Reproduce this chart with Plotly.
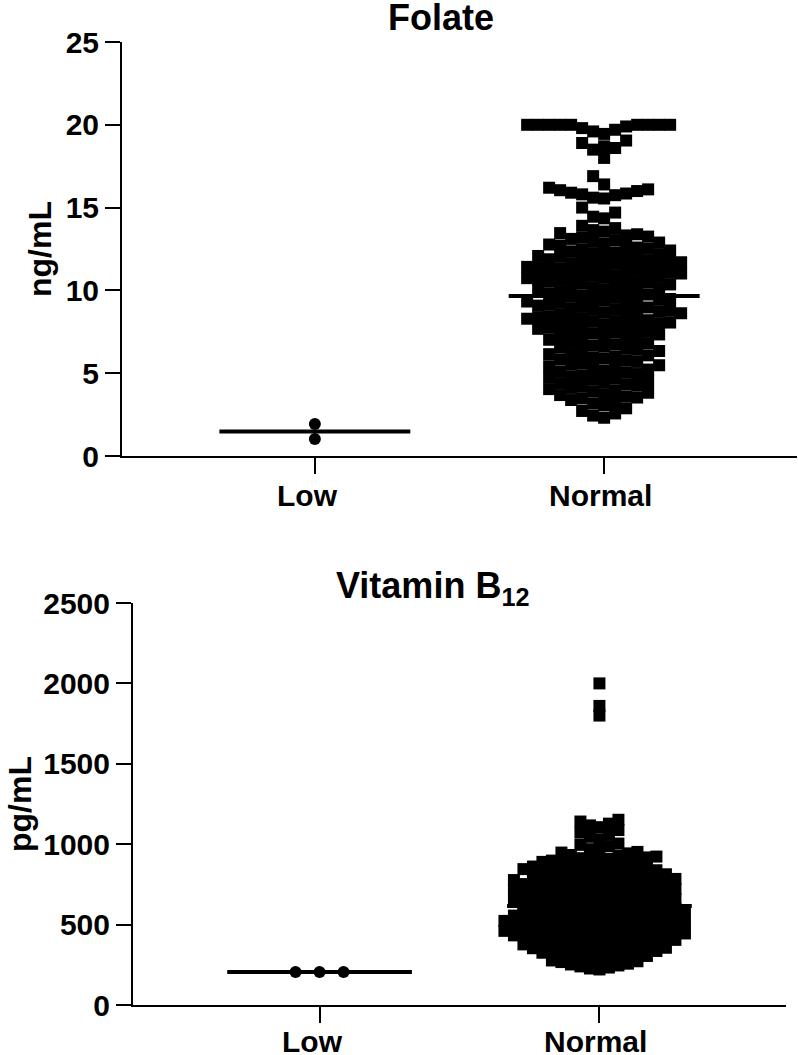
import numpy as np
import plotly.graph_objects as go

# ---- data ----
groups = ["Low", "Normal"]

folate_low = [1.93, 1.03]
folate_normal = [
    2.31, 2.44,
    2.57, 2.72, 2.88,
    3.06, 3.17, 3.26, 3.38, 3.47,
    3.53, 3.6, 3.68, 3.74, 3.82, 3.89, 3.96,
    4.04, 4.11, 4.18, 4.25, 4.33, 4.4, 4.47,
    4.53, 4.6, 4.67, 4.74, 4.82, 4.88, 4.95,
    5.03, 5.09, 5.16, 5.22, 5.29, 5.35, 5.42, 5.48,
    5.54, 5.61, 5.68, 5.75, 5.82, 5.89, 5.96,
    6.02, 6.08, 6.15, 6.21, 6.28, 6.34, 6.41, 6.47,
    6.54, 6.61, 6.68, 6.75, 6.82, 6.89, 6.96,
    7.02, 7.08, 7.15, 7.21, 7.28, 7.34, 7.41, 7.47,
    7.52, 7.57, 7.63, 7.68, 7.74, 7.79, 7.85, 7.9, 7.96,
    8.02, 8.06, 8.11, 8.15, 8.2, 8.24, 8.29, 8.33, 8.38, 8.42, 8.47,
    8.52, 8.57, 8.62, 8.67, 8.72, 8.77, 8.82, 8.87, 8.92, 8.97,
    9.03, 9.08, 9.13, 9.18, 9.23, 9.28, 9.33, 9.38, 9.43, 9.48,
    9.52, 9.57, 9.62, 9.7, 9.75, 9.8, 9.86, 9.91, 9.96,
    10.03, 10.08, 10.14, 10.19, 10.25, 10.3, 10.36, 10.41, 10.47,
    10.52, 10.56, 10.61, 10.65, 10.7, 10.74, 10.79, 10.83, 10.88, 10.92, 10.97,
    11.02, 11.06, 11.11, 11.15, 11.2, 11.24, 11.29, 11.33, 11.38, 11.42, 11.47,
    11.52, 11.56, 11.61, 11.65, 11.7, 11.74, 11.79, 11.83, 11.88, 11.92, 11.97,
    12.03, 12.08, 12.14, 12.19, 12.25, 12.3, 12.36, 12.41, 12.47,
    12.53, 12.59, 12.65, 12.71, 12.77, 12.83, 12.89, 12.95,
    13.04, 13.11, 13.18, 13.25, 13.32, 13.39, 13.46,
    13.55, 13.64, 13.76, 13.9,
    14.35, 14.45, 14.7, 15.0,
    15.55, 15.6, 15.75, 15.8, 15.85, 15.9, 16.0, 16.05, 16.1, 16.2, 16.4,
    16.9,
    18.0, 18.5, 18.6, 18.7, 18.9, 19.05,
    19.45, 19.6, 19.7, 19.8, 19.9,
    20.0, 20.0, 20.0, 20.0, 20.0, 20.0, 20.0, 20.0, 20.0,
]

b12_low = [205, 205, 205]
b12_normal = [
    2000, 1860, 1800,
    1152, 1141, 1128, 1117, 1106,
    1088, 1072, 1058,
    1046, 1031, 1004,
    996, 987, 969, 960, 952,
    948, 943, 933, 928, 923, 918, 913, 908, 903,
    898, 894, 890, 886, 882, 873, 869, 865, 861, 857, 853,
    848, 845, 841, 838, 834, 831, 823, 820, 816, 813, 809, 806, 802,
    798, 795, 791, 788, 784, 781, 777, 773, 770, 766, 763, 759, 756, 752,
    749, 745, 742, 739, 735, 732, 729, 725, 722, 719, 715, 712, 709, 705, 702,
    698, 695, 691, 688, 684, 681, 677, 673, 670, 666, 663, 659, 656, 652,
    648, 645, 642, 638, 635, 632, 628, 625, 622, 618, 615, 612, 608, 605, 602,
    598, 595, 591, 588, 584, 581, 577, 574, 570, 567, 563, 560, 556, 553, 551,
    548, 545, 542, 539, 536, 533, 530, 527, 523, 520, 517, 514, 511, 508, 505, 502,
    498, 495, 492, 489, 486, 483, 480, 477, 473, 470, 467, 464, 461, 458, 455, 452,
    448, 445, 442, 439, 436, 433, 430, 427, 423, 420, 417, 414, 411, 408, 405, 402,
    398, 395, 391, 388, 381, 377, 374, 370, 367, 363, 360, 356, 353, 351,
    348, 340, 336, 332, 328, 325, 321, 313, 309, 305, 301,
    297, 287, 282, 277, 272, 267, 257, 252,
    246, 240, 233, 227, 221,
]

# ---- geometry (pixels in a 798 x 1055 page) ----
W, H = 798, 1055
X_RANGE = [-2 / 3, 5 / 3]
top = dict(x0=122, x1=797, y0=42, y1=456, ymax=25)
bot = dict(x0=133, x1=786, y0=603, y1=1005, ymax=2500)

BLACK = "#000000"
FONT = "Liberation Sans, Arial, Helvetica, sans-serif"


def swarm(values, px_per_val, box_x, box_y, maxw=1e9):
    """beeswarm layout (pixels); points overlap once the column hits maxw"""
    order = sorted(range(len(values)), key=lambda i: values[i])
    placed = []
    out = [0.0] * len(values)
    for i in order:
        y = values[i] * px_per_val
        near = [px for px, py in placed if abs(py - y) < box_y]
        cands = {0.0}
        for px in near:
            cands.add(px - box_x)
            cands.add(px + box_x)
        free = [c for c in cands if abs(c) <= maxw
                and all(abs(c - px) >= box_x - 1e-6 for px in near)]
        if free:
            best = min(free, key=lambda c: (abs(c), c))
        else:
            grid = np.linspace(-maxw, maxw, int(2 * maxw) + 1)
            best = max(grid, key=lambda c: (min(abs(c - px) for px in near), -abs(c)))
        placed.append((best, y))
        out[i] = float(best)
    return out


def panel_points(values, cat, geo, box, maxw=1e9):
    px_per_val = (geo["y1"] - geo["y0"]) / geo["ymax"]
    px_per_cat = (geo["x1"] - geo["x0"]) / (X_RANGE[1] - X_RANGE[0])
    bx, by = box
    offs = swarm(values, px_per_val, bx, by, maxw)
    return [cat + o / px_per_cat for o in offs]


fig = go.Figure()

panels = [
    (folate_low, folate_normal, top, "x", "y", 11),
    (b12_low, b12_normal, bot, "x2", "y2", 9.5),
]

for low, normal, geo, xa, ya, box in panels:
    # Low group - circles
    fig.add_trace(go.Scatter(
        x=panel_points(low, 0, geo, (24, 12)), y=low, mode="markers",
        marker=dict(symbol="circle", size=12, color=BLACK, line=dict(width=0)),
        xaxis=xa, yaxis=ya, showlegend=False, hoverinfo="y",
    ))
    # Normal group - squares
    fig.add_trace(go.Scatter(
        x=panel_points(normal, 1, geo, (box, box), maxw=96), y=normal, mode="markers",
        marker=dict(symbol="square", size=12, color=BLACK, line=dict(width=0)),
        xaxis=xa, yaxis=ya, showlegend=False, hoverinfo="y",
    ))
    # median lines
    for cat, vals in [(0, low), (1, normal)]:
        m = float(np.median(vals))
        fig.add_trace(go.Scatter(
            x=[cat - 0.33, cat + 0.33], y=[m, m], mode="lines",
            line=dict(color=BLACK, width=4),
            xaxis=xa, yaxis=ya, showlegend=False, hoverinfo="skip",
        ))

tickfont = dict(family=FONT, size=30, color=BLACK, weight="bold")


def xaxis(geo, anchor):
    return dict(
        domain=[geo["x0"] / W, geo["x1"] / W], range=X_RANGE, anchor=anchor,
        tickvals=[0, 1], showticklabels=False, ticks="outside", ticklen=16,
        tickwidth=2, tickcolor=BLACK, showline=True, linewidth=2, linecolor=BLACK,
        showgrid=False, zeroline=False, fixedrange=True, automargin=False,
    )


def yaxis(geo, anchor, dtick):
    return dict(
        domain=[1 - geo["y1"] / H, 1 - geo["y0"] / H], range=[0, geo["ymax"]],
        anchor=anchor, dtick=dtick, ticks="outside", ticklen=15, tickwidth=2,
        tickcolor=BLACK, showline=True, linewidth=2, linecolor=BLACK,
        showgrid=False, zeroline=False, tickfont=tickfont, fixedrange=True,
        automargin=False,
    )


fig.update_layout(
    width=W, height=H, margin=dict(l=0, r=0, t=0, b=0, pad=0, autoexpand=False),
    paper_bgcolor="white", plot_bgcolor="white",
    xaxis=xaxis(top, "y"), yaxis=yaxis(top, "x", 5),
    xaxis2=xaxis(bot, "y2"), yaxis2=yaxis(bot, "x2", 500),
)

# category labels under the x ticks
for xa, yp in [("x", 495), ("x2", 1041)]:
    for cat, name, shift in [(0, groups[0], -7), (1, groups[1], -4)]:
        fig.add_annotation(
            text=name, x=cat, xref=xa, y=1 - yp / H, yref="paper",
            xanchor="center", yanchor="middle", xshift=shift, showarrow=False,
            font=tickfont,
        )

# titles
titles = [
    ("Folate", 441, 17),
    ("Vitamin B<sub>12</sub>", 432, 588),
]
for text, xp, yp in titles:
    fig.add_annotation(
        text=text, x=xp / W, y=1 - yp / H, xref="paper", yref="paper",
        xanchor="center", yanchor="middle", showarrow=False,
        font=dict(family=FONT, size=36, color=BLACK, weight="bold"),
    )

# y-axis titles
for text, xp, yp in [("ng/mL", 40, 249), ("pg/mL", 20, 804)]:
    fig.add_annotation(
        text=text, x=xp / W, y=1 - yp / H, xref="paper", yref="paper",
        xanchor="center", yanchor="middle", showarrow=False, textangle=-90,
        font=dict(family=FONT, size=32, color=BLACK, weight="bold"),
    )

fig.write_html("out.html", post_script="document.body.style.margin='0';",
               config={"displayModeBar": False})
